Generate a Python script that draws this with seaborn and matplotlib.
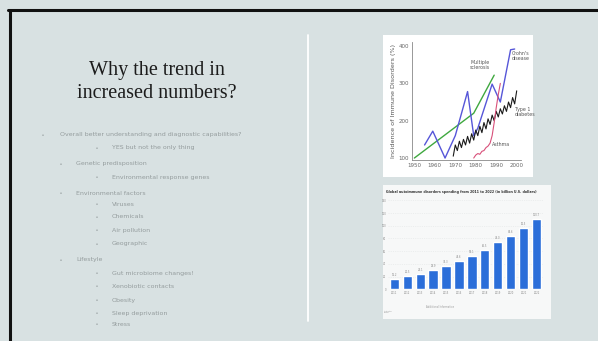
import pandas as pd
import matplotlib.pyplot as plt
import seaborn as sns

sns.set_theme(style="white")
plt.rcParams['font.family'] = ['DejaVu Sans']

# --- slide text ---
title_lines = ["Why the trend in", "increased numbers?"]
bullets = [
    (0, "Overall better understanding and diagnostic capabilities?"),
    (2, "YES but not the only thing"),
    (1, "Genetic predisposition"),
    (2, "Environmental response genes"),
    (1, "Environmental factors"),
    (2, "Viruses"),
    (2, "Chemicals"),
    (2, "Air pollution"),
    (2, "Geographic"),
    (1, "Lifestyle"),
    (2, "Gut microbiome changes!"),
    (2, "Xenobiotic contacts"),
    (2, "Obesity"),
    (2, "Sleep deprivation"),
    (2, "Stress"),
]
bullet_y = [134.7, 147.7, 164, 177.3, 193.3, 204.3, 217, 230.3, 244, 260,
            273.3, 286.3, 300.3, 313.3, 324.3]

# --- immune disorders incidence (top picture) ---
ms_years = [1950, 1979, 1989]
ms_vals = [100, 220, 322]
crohn_years = [1955, 1959, 1965, 1970, 1976, 1979, 1981, 1988, 1992, 1997, 1999]
crohn_vals = [135, 172, 100, 160, 278, 160, 180, 298, 250, 390, 392]
t1d_years = list(range(1969, 2001))
t1d_vals = [105, 135, 120, 145, 128, 150, 135, 158, 140, 165, 148, 175, 160, 185,
            168, 195, 178, 205, 190, 215, 200, 225, 210, 232, 218, 240, 225, 250,
            235, 262, 245, 280]
asthma_years = list(range(1979, 1993))
asthma_vals = [100, 108, 112, 110, 118, 120, 128, 132, 140, 160, 195, 235, 270, 300]

# --- autoimmune spending (bottom picture) ---
spend_years = [str(y) for y in range(2011, 2023)]
spend_vals = [16.2, 20.5, 24.1, 29.9, 37.3, 44.6, 53.1, 62.5, 74.0, 84.6, 96.5, 110.7]

W, H = 598, 341
bg = "#d8e1e2"
fig = plt.figure(figsize=(W / 100, H / 100), dpi=100, facecolor=bg)


def fx(x):
    return x / W


def fy(y):
    return 1 - y / H


# slide border (black top and left edge)
fig.add_artist(plt.Line2D([fx(8), 1], [fy(10), fy(10)], color="#111111", lw=2.2))
fig.add_artist(plt.Line2D([fx(9.5), fx(9.5)], [fy(10), 0], color="#111111", lw=2.2))
# divider
fig.add_artist(plt.Line2D([fx(308), fx(308)], [fy(35), fy(321)], color="white", lw=1.3))

# title
fig.text(fx(157), fy(70), title_lines[0], ha="center", va="center",
         family="Liberation Serif", fontsize=14.5, color="#1c1c1c")
fig.text(fx(157), fy(94), title_lines[1], ha="center", va="center",
         family="Liberation Serif", fontsize=14.5, color="#1c1c1c")

# bullet list
bullet_x = {0: 43, 1: 61, 2: 97}
text_x = {0: 60, 1: 76, 2: 112}
for (lvl, txt), y in zip(bullets, bullet_y):
    fig.text(fx(bullet_x[lvl]), fy(y), "▪", ha="center", va="center",
             fontsize=2.2, color="#a8b0b1")
    fig.text(fx(text_x[lvl]), fy(y), txt, ha="left", va="center",
             fontsize=4.5, color="#949c9d")

# top picture: white panel + line chart
fig.add_artist(plt.Rectangle((fx(383), fy(177)), 150 / W, 142 / H, zorder=-1,
                             transform=fig.transFigure, facecolor="white", edgecolor="none"))
ax1 = fig.add_axes([fx(412.3), fy(159.9), (520.8 - 412.3) / W, (159.9 - 42.3) / H])
ax1.set_facecolor("white")
sns.lineplot(x=ms_years, y=ms_vals, ax=ax1, color="#3fa83f", lw=1.0)
sns.lineplot(x=crohn_years, y=crohn_vals, ax=ax1, color="#5656d8", lw=1.0)
sns.lineplot(x=t1d_years, y=t1d_vals, ax=ax1, color="#1a1a1a", lw=0.8)
sns.lineplot(x=asthma_years, y=asthma_vals, ax=ax1, color="#d8507a", lw=0.8)
ax1.set_xlim(1949, 2002)
ax1.set_ylim(95, 410)
ax1.set_xticks([1950, 1960, 1970, 1980, 1990, 2000])
ax1.set_yticks([100, 200, 300, 400])
ax1.tick_params(labelsize=4, colors="#666666", length=1.5, width=0.5, pad=1)
ax1.set_ylabel("Incidence of Immune Disorders (%)", fontsize=4.6, color="#555555", labelpad=2)
for s in ["top", "right"]:
    ax1.spines[s].set_visible(False)
for s in ["left", "bottom"]:
    ax1.spines[s].set_color("#888888")
    ax1.spines[s].set_linewidth(0.6)
ax1.text(1982, 350, "Multiple\nsclerosis", fontsize=3.4, color="#555555", ha="center", va="center",
         linespacing=0.9)
ax1.text(1997.5, 373, "Crohn's\ndisease", fontsize=3.4, color="#555555", ha="left", va="center",
         linespacing=0.9, clip_on=False)
ax1.text(1999, 223, "Type 1\ndiabetes", fontsize=3.4, color="#555555", ha="left", va="center",
         linespacing=0.9, clip_on=False)
ax1.text(1988, 135, "Asthma", fontsize=3.4, color="#555555", ha="left", va="center")

# bottom picture: white panel + bar chart
fig.add_artist(plt.Rectangle((fx(383), fy(319)), 168 / W, 134 / H, zorder=-1,
                             transform=fig.transFigure, facecolor="#f7f8f8", edgecolor="none"))
fig.text(fx(386), fy(192.3),
         "Global autoimmune disorders spending from 2011 to 2022 (in billion U.S. dollars)",
         fontsize=2.3, fontweight="bold", color="#333333", ha="left", va="center")
ax2 = fig.add_axes([fx(387.9), fy(289.3), 155.1 / W, (289.3 - 197.2) / H])
ax2.set_facecolor("#f7f8f8")
df = pd.DataFrame({"Year": spend_years, "Spending": spend_vals})
sns.barplot(data=df, x="Year", y="Spending", ax=ax2, color="#2b6ed9", width=0.72,
            saturation=1)
for i, v in enumerate(spend_vals):
    ax2.text(i, v + 3, f"{v:.1f}", fontsize=1.8, color="#888888", ha="center", va="bottom")
ax2.set_xlim(-0.5, 11.5)
ax2.set_ylim(0, 145)
ax2.set_yticks(range(0, 141, 20))
ax2.yaxis.grid(True, color="#e3e6e6", lw=0.4, ls=(0, (2, 2)))
ax2.set_axisbelow(True)
ax2.tick_params(labelsize=1.8, colors="#888888", length=0, pad=1.2)
ax2.set_xlabel("")
ax2.set_ylabel("")
for s in ax2.spines.values():
    s.set_visible(False)
fig.text(fx(440), fy(307), "Additional Information", fontsize=1.8, color="#999999",
         ha="center", va="center")
fig.text(fx(384), fy(312), "Statista\n2018", fontsize=1.6, color="#999999",
         ha="left", va="center")

fig.savefig("out.png", dpi=100, facecolor=bg)
